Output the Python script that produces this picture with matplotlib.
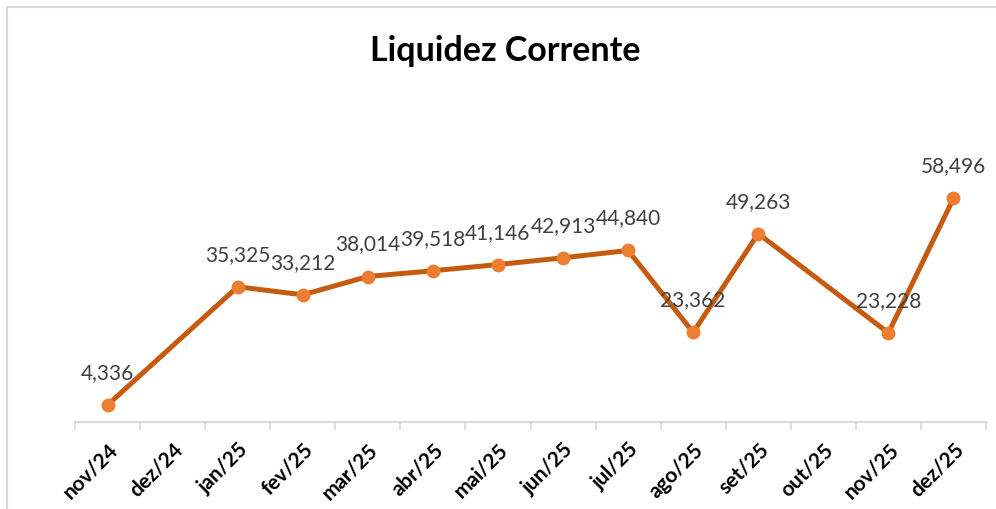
import numpy as np
import matplotlib.pyplot as plt
from matplotlib.patches import Rectangle

meses = ['nov/24', 'dez/24', 'jan/25', 'fev/25', 'mar/25', 'abr/25', 'mai/25',
         'jun/25', 'jul/25', 'ago/25', 'set/25', 'out/25', 'nov/25', 'dez/25']
liquidez = [4.336, None, 35.325, 33.212, 38.014, 39.518, 41.146,
            42.913, 44.840, 23.362, 49.263, None, 23.228, 58.496]

plt.rcParams['font.family'] = ['Lato', 'DejaVu Sans']

fig = plt.figure(figsize=(9.96, 5.09), dpi=100)
ax = fig.add_axes([75 / 996, 1 - 421.5 / 509, 911 / 996, 267 / 509])

# pontos existentes (linha liga por cima dos meses sem dado)
x = [i for i, v in enumerate(liquidez) if v is not None]
y = [v for v in liquidez if v is not None]

ax.plot(x, y, color='#C55A11', lw=3.6, zorder=2, solid_capstyle='round')
ax.plot(x, y, 'o', color='#ED7D31', ms=10, mew=0, zorder=3)

for xi, yi in zip(x, y):
    ax.annotate(f'{yi:.3f}'.replace('.', ','), (xi, yi), xytext=(0, 23),
                textcoords='offset points', ha='center', va='center',
                fontsize=15, color='#404040')

ax.set_xlim(-0.5, len(meses) - 0.5)
ax.set_ylim(0, 70)
ax.set_yticks([])
for s in ['top', 'right', 'left']:
    ax.spines[s].set_visible(False)
ax.spines['bottom'].set_color('#D9D9D9')
ax.spines['bottom'].set_linewidth(1.5)

ax.set_xticks(np.arange(len(meses) + 1) - 0.5, minor=False)
ax.set_xticklabels([])
ax.tick_params(axis='x', which='major', length=6, width=1.2, color='#D9D9D9')
ax.set_xticks(np.arange(len(meses)), minor=True)
ax.set_xticklabels(meses, minor=True, rotation=45, ha='right', va='top',
                   rotation_mode='anchor', fontsize=15, fontweight='bold')
ax.tick_params(axis='x', which='minor', length=0, pad=13)

fig.text(505 / 996, 1 - 51 / 509, 'Liquidez Corrente', ha='center', va='center',
         fontsize=24.5, fontweight='bold')

fig.patches.append(Rectangle((7 / 996, -0.1), 1.2, 1.1 - 7 / 509,
                             transform=fig.transFigure, fill=False,
                             edgecolor='#D9D9D9', lw=1.5))

fig.savefig('out.png', dpi=100)
